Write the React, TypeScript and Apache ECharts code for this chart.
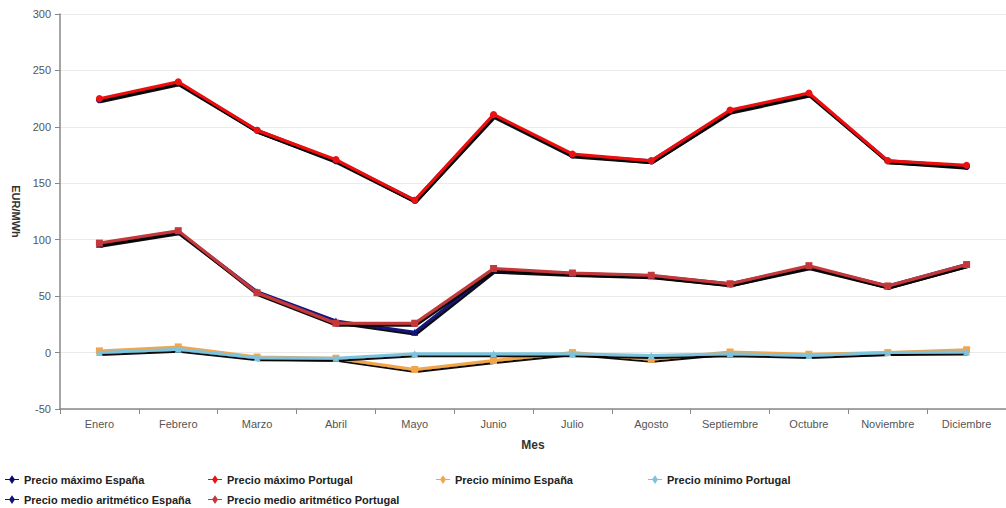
import React, { useEffect, useRef } from "react";
import * as echarts from "echarts";

const months = ["Enero", "Febrero", "Marzo", "Abril", "Mayo", "Junio", "Julio", "Agosto", "Septiembre", "Octubre", "Noviembre", "Diciembre"];
const maxEspana = [224, 239, 197, 170, 135, 210, 175, 170, 214, 229, 170, 165];
const maxPortugal = [225, 240, 197, 171, 135, 211, 176, 170, 215, 230, 170, 166];
const minEspana = [1.5, 5, -4, -5, -15, -7, 0, -6, 0.5, -1.5, 0, 2.5];
const minPortugal = [0, 3, -4.5, -5, -1, -1, -1, -2.5, -1, -2.5, 0, 0.5];
const medioEspana = [96, 107, 54, 28, 18, 73, 70, 68, 61, 76, 59, 78];
const medioPortugal = [97, 108, 53, 26, 26, 74.5, 70.5, 68.5, 61, 77, 59, 78];

const names = [
  "Precio máximo España",
  "Precio máximo Portugal",
  "Precio mínimo España",
  "Precio mínimo Portugal",
  "Precio medio aritmético España",
  "Precio medio aritmético Portugal",
];
const colors = ["#0b0b6b", "#ee1111", "#f2a64c", "#7cc3de", "#14147a", "#c4383a"];
const symbols = ["circle", "circle", "rect", "triangle", "triangle", "rect"];
const values = [maxEspana, maxPortugal, minEspana, minPortugal, medioEspana, medioPortugal];
const legendPos = [
  [5, 474], [208, 474], [436, 474], [648, 474],
  [5, 494], [208, 494],
];

const legendIcon = "path://M0,4.5L5,4.5L8,0L11,4.5L16,4.5L16,5.5L11,5.5L8,10L5,5.5L0,5.5Z";

export default function App() {
  const ref = useRef<HTMLDivElement>(null);
  useEffect(() => {
    if (!ref.current) return;
    const chart = echarts.init(ref.current, null, { renderer: "svg" });
    chart.setOption({
      animation: false,
      backgroundColor: "#ffffff",
      grid: { left: 60, top: 14, width: 953, height: 395 },
      xAxis: {
        type: "category",
        data: months,
        boundaryGap: true,
        name: "Mes",
        nameLocation: "middle",
        nameGap: 30,
        nameTextStyle: { fontFamily: "Liberation Sans, Arial", fontSize: 12, fontWeight: "bold", color: "#333" },
        axisLine: { onZero: false, lineStyle: { color: "#888", width: 1.5 } },
        axisTick: { show: true, alignWithLabel: false, length: 5, lineStyle: { color: "#888" } },
        axisLabel: { fontFamily: "Liberation Sans, Arial", fontSize: 11, color: "#555", margin: 9, interval: 0 },
        splitLine: { show: false },
      },
      yAxis: {
        type: "value",
        min: -50,
        max: 300,
        interval: 50,
        name: "EUR/MWh",
        nameLocation: "middle",
        nameRotate: -90,
        nameGap: 38,
        nameTextStyle: { fontFamily: "Liberation Sans, Arial", fontSize: 11, fontWeight: "bold", color: "#333" },
        axisLine: { show: true, lineStyle: { color: "#888", width: 1.5 } },
        axisTick: { show: true, length: 5, lineStyle: { color: "#888" } },
        axisLabel: { fontFamily: "Liberation Sans, Arial", fontSize: 11, color: "#555", margin: 9 },
        splitLine: { show: true, lineStyle: { color: "#ebebeb", width: 1 } },
      },
      legend: names.map((n, i) => ({
        data: [n],
        left: legendPos[i][0],
        top: legendPos[i][1],
        padding: 0,
        icon: legendIcon,
        itemWidth: 14,
        itemHeight: 9,
        itemGap: 4,
        textStyle: { fontFamily: "Liberation Sans, Arial", fontSize: 11, fontWeight: "bold", color: "#222" },
      })),
      series: names.map((n, i) => ({
        name: n,
        type: "line",
        data: values[i],
        color: colors[i],
        symbol: symbols[i],
        symbolSize: 7,
        showSymbol: true,
        lineStyle: {
          width: 3,
          color: colors[i],
          shadowColor: "rgba(0,0,0,0.95)",
          shadowBlur: 1,
          shadowOffsetX: 1,
          shadowOffsetY: 2,
        },
        itemStyle: { color: colors[i] },
        z: 2 + i,
      })),
    });
    return () => chart.dispose();
  }, []);
  return (
    <div
      ref={ref}
      style={{ position: "absolute", left: 0, top: 0, width: 1006, height: 508 }}
    />
  );
}
